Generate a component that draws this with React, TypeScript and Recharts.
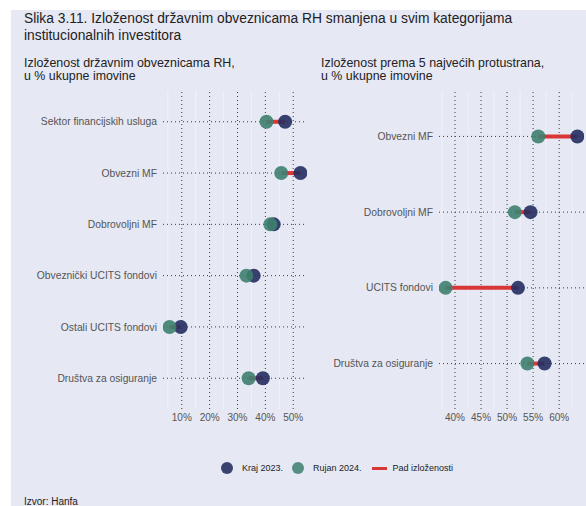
import React from "react";
import {
  ScatterChart,
  Scatter,
  XAxis,
  YAxis,
  ReferenceLine,
} from "recharts";

// ---------- DATA ----------
const leftCategories = [
  "Sektor financijskih usluga",
  "Obvezni MF",
  "Dobrovoljni MF",
  "Obveznički UCITS fondovi",
  "Ostali UCITS fondovi",
  "Društva za osiguranje",
];
const leftEnd2023 = [47.1, 52.6, 43.0, 35.8, 9.6, 39.1];
const leftSep2024 = [40.4, 45.7, 41.8, 33.2, 5.6, 34.0];
const leftTicks = [10, 20, 30, 40, 50];
const leftMinorTicks = [5, 15, 25, 35, 45];
const leftDomain: [number, number] = [3.25, 54.95];

const rightCategories = [
  "Obvezni MF",
  "Dobrovoljni MF",
  "UCITS fondovi",
  "Društva za osiguranje",
];
const rightEnd2023 = [63.5, 54.5, 52.1, 57.2];
const rightSep2024 = [56.0, 51.5, 38.2, 53.9];
const rightTicks = [40, 45, 50, 55, 60];
const rightMinorTicks = [37.5, 42.5, 47.5, 52.5, 57.5, 62.5];
const rightDomain: [number, number] = [36.93, 64.77];

const titleLines = [
  "Slika 3.11. Izloženost državnim obveznicama RH smanjena u svim kategorijama",
  "institucionalnih investitora",
];
const leftSubtitle = ["Izloženost državnim obveznicama RH,", "u % ukupne imovine"];
const rightSubtitle = ["Izloženost prema 5 najvećih protustrana,", "u % ukupne imovine"];
const legendLabels = ["Kraj 2023.", "Rujan 2024.", "Pad izloženosti"];
const sourceText = "Izvor: Hanfa";

// ---------- STYLE ----------
const FONT = '"Liberation Sans", Arial, sans-serif';
const BG = "#e6e8f4";
const DARK = "#252e60";
const GREEN = "#3e8170";
const RED = "#d93636";
const GRID = "#3a3a3a";
const TICK = "#555555";

const makeDot = (color: string) => (props: any) => (
  <circle cx={props.cx} cy={props.cy} r={7} fill={color} fillOpacity={0.9} />
);

const makeYTick = (labels: string[]) => (props: any) => {
  const { x, y, payload } = props;
  return (
    <text
      x={x}
      y={y}
      dy="0.35em"
      textAnchor="end"
      fontSize={10.3}
      fill={TICK}
      fontFamily={FONT}
    >
      {labels[payload.value - 1] ?? ""}
    </text>
  );
};

type PanelProps = {
  categories: string[];
  end2023: number[];
  sep2024: number[];
  ticks: number[];
  minor: number[];
  domain: [number, number];
  left: number;
  width: number;
  yAxisWidth: number;
  marginLeft: number;
  marginRight: number;
};

function Panel(p: PanelProps) {
  const n = p.categories.length;
  const darkData = p.end2023.map((v, i) => ({ x: v, y: i + 1 }));
  const greenData = p.sep2024.map((v, i) => ({ x: v, y: i + 1 }));
  const yTicks = p.categories.map((_, i) => i + 1);
  return (
    <div style={{ position: "absolute", left: p.left, top: 0 }}>
      <ScatterChart
        width={p.width}
        height={440}
        margin={{ top: 91, right: p.marginRight, bottom: 11, left: p.marginLeft }}
        style={{ fontFamily: FONT }}
      >
        <XAxis
          type="number"
          dataKey="x"
          domain={p.domain}
          ticks={p.ticks}
          allowDataOverflow
          tickFormatter={(v: number) => v + "%"}
          axisLine={false}
          tickLine={false}
          tickSize={3}
          tickMargin={2}
          height={20}
          tick={{ fontSize: 10, fill: TICK, fontFamily: FONT }}
          interval={0}
        />
        <YAxis
          type="number"
          dataKey="y"
          domain={[0.4, n + 0.6]}
          reversed
          ticks={yTicks}
          allowDataOverflow
          axisLine={false}
          tickLine={false}
          tickSize={4}
          tickMargin={2}
          width={p.yAxisWidth}
          interval={0}
          tick={makeYTick(p.categories)}
        />
        {p.minor.map((m) => (
          <ReferenceLine key={"m" + m} x={m} stroke="#f1f2f9" strokeWidth={1} ifOverflow="hidden" />
        ))}
        {p.ticks.map((t) => (
          <ReferenceLine key={"v" + t} x={t} stroke={GRID} strokeDasharray="1 3" strokeWidth={1} />
        ))}
        {yTicks.map((t) => (
          <ReferenceLine key={"h" + t} y={t} stroke={GRID} strokeDasharray="1 3" strokeWidth={1} />
        ))}
        {p.categories.map((c, i) => (
          <ReferenceLine
            key={"s" + c}
            segment={[
              { x: p.sep2024[i], y: i + 1 },
              { x: p.end2023[i], y: i + 1 },
            ]}
            stroke={RED}
            strokeWidth={4}
            ifOverflow="visible"
          />
        ))}
        <Scatter data={darkData} shape={makeDot(DARK)} isAnimationActive={false} />
        <Scatter data={greenData} shape={makeDot(GREEN)} isAnimationActive={false} />
      </ScatterChart>
    </div>
  );
}

export default function App() {
  return (
    <div
      style={{
        position: "absolute",
        left: 0,
        top: 0,
        width: 586,
        height: 506,
        background: "#ffffff",
        fontFamily: FONT,
        overflow: "hidden",
      }}
    >
      <div
        style={{
          position: "absolute",
          left: 11,
          top: 10,
          width: 575,
          height: 496,
          background: BG,
        }}
      />
      <div
        style={{
          position: "absolute",
          left: 24,
          top: 10,
          fontSize: 13.8,
          lineHeight: "17px",
          color: "#222",
          whiteSpace: "nowrap",
        }}
      >
        {titleLines.map((t) => (
          <div key={t}>{t}</div>
        ))}
      </div>
      <div
        style={{
          position: "absolute",
          left: 24,
          top: 57,
          fontSize: 12.4,
          lineHeight: "13px",
          color: "#222",
          whiteSpace: "nowrap",
        }}
      >
        {leftSubtitle.map((t) => (
          <div key={t}>{t}</div>
        ))}
      </div>
      <div
        style={{
          position: "absolute",
          left: 321,
          top: 57,
          fontSize: 12.4,
          lineHeight: "13px",
          color: "#222",
          whiteSpace: "nowrap",
        }}
      >
        {rightSubtitle.map((t) => (
          <div key={t}>{t}</div>
        ))}
      </div>

      <Panel
        categories={leftCategories}
        end2023={leftEnd2023}
        sep2024={leftSep2024}
        ticks={leftTicks}
        minor={leftMinorTicks}
        domain={leftDomain}
        left={0}
        width={310}
        yAxisWidth={160}
        marginLeft={3}
        marginRight={3}
      />
      <Panel
        categories={rightCategories}
        end2023={rightEnd2023}
        sep2024={rightSep2024}
        ticks={rightTicks}
        minor={rightMinorTicks}
        domain={rightDomain}
        left={300}
        width={286}
        yAxisWidth={139}
        marginLeft={0}
        marginRight={2}
      />

      {/* Legend */}
      <div
        style={{
          position: "absolute",
          left: 221,
          top: 461,
          height: 14,
          display: "flex",
          alignItems: "center",
          fontSize: 9,
          color: "#222",
          whiteSpace: "nowrap",
        }}
      >
        <span style={{ width: 12, height: 12, borderRadius: 6, background: "#3a4270", display: "inline-block" }} />
        <span style={{ marginLeft: 9 }}>{legendLabels[0]}</span>
        <span style={{ marginLeft: 9, width: 12, height: 12, borderRadius: 6, background: "#558f82", display: "inline-block" }} />
        <span style={{ marginLeft: 9 }}>{legendLabels[1]}</span>
        <span style={{ marginLeft: 10, width: 15, height: 3, background: RED, display: "inline-block" }} />
        <span style={{ marginLeft: 6 }}>{legendLabels[2]}</span>
      </div>

      <div
        style={{
          position: "absolute",
          left: 24,
          top: 496,
          fontSize: 10,
          color: "#222",
          whiteSpace: "nowrap",
        }}
      >
        {sourceText}
      </div>
    </div>
  );
}
